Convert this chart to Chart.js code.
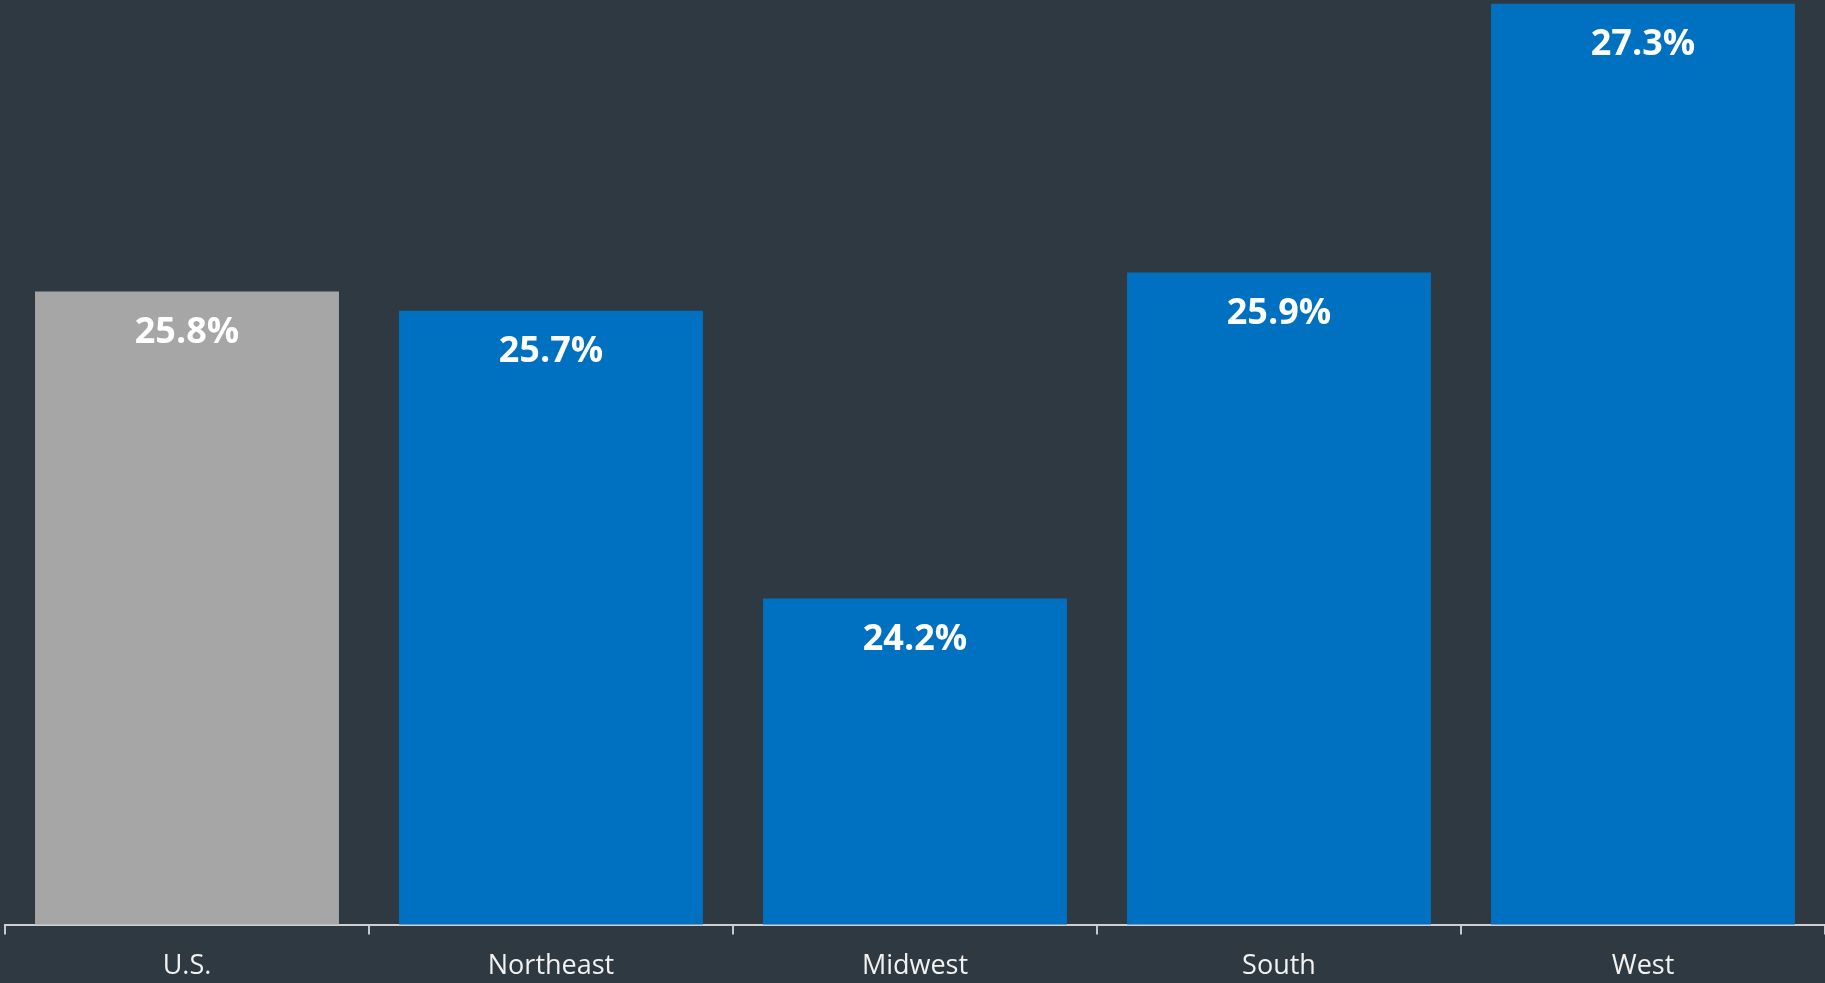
<!DOCTYPE html>
<html>
<head>
<meta charset="utf-8">
<script src="https://cdn.jsdelivr.net/npm/chart.js@4"></script>
<style>
    html, body { margin: 0; padding: 0; background: #2f3941; overflow: hidden; }
    #chartBox { width: 1825px; height: 999px; }
</style>
</head>
<body>
<div id="chartBox"><canvas id="BarChart"></canvas></div>
<script>
const regions = ['U.S.', 'Northeast', 'Midwest', 'South', 'West'];
const shareValues = [25.8, 25.7, 24.2, 25.9, 27.3];
const barColors = ['#a6a6a6', '#0070c0', '#0070c0', '#0070c0', '#0070c0'];

// value labels written inside the top of each bar
const barLabels = {
    id: 'barLabels',
    afterDatasetsDraw(chart) {
        const ctx = chart.ctx;
        const meta = chart.getDatasetMeta(0);
        ctx.save();
        ctx.fillStyle = '#ffffff';
        ctx.font = 'bold 36px "Open Sans"';
        ctx.textAlign = 'center';
        ctx.textBaseline = 'middle';
        meta.data.forEach((bar, i) => {
            ctx.fillText(shareValues[i].toFixed(1) + '%', bar.x, bar.y + 41);
        });
        ctx.restore();
    }
};

const data = {
    labels: regions,
    datasets: [{
        data: shareValues,
        backgroundColor: barColors,
        borderWidth: 0,
        barPercentage: 0.835,
        categoryPercentage: 1
    }]
};

const config = {
    type: 'bar',
    data,
    options: {
        responsive: true,
        maintainAspectRatio: false,
        animation: false,
        layout: {
            padding: { left: 5, right: 0, top: 0, bottom: 0 }
        },
        scales: {
            x: {
                grid: {
                    display: true,
                    drawOnChartArea: false,
                    drawTicks: true,
                    tickLength: 10,
                    color: '#c8c8c8',
                    lineWidth: 2
                },
                border: {
                    display: true,
                    color: '#d0d0d0',
                    width: 2
                },
                ticks: {
                    color: '#f2f2f2',
                    padding: 16,
                    font: { family: '"Open Sans"', size: 27 }
                }
            },
            y: {
                display: false,
                min: 22.5,
                max: 27.32
            }
        },
        plugins: {
            legend: { display: false },
            tooltip: { enabled: false }
        }
    },
    plugins: [barLabels]
};

const barChart = new Chart(document.getElementById('BarChart'), config);
</script>
</body>
</html>
